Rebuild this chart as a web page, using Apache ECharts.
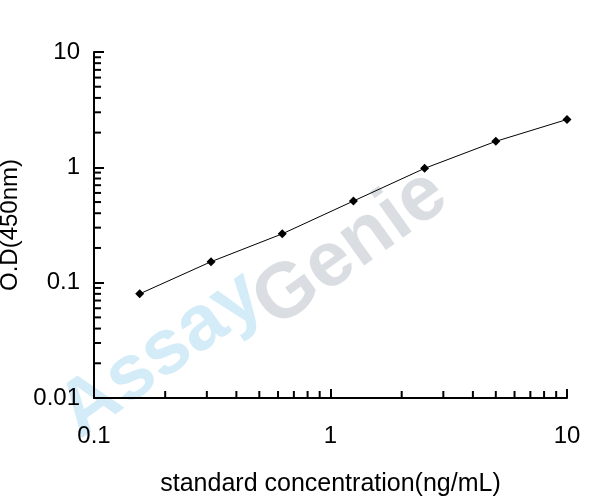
<!DOCTYPE html>
<html><head><meta charset="utf-8">
<script src="https://cdn.jsdelivr.net/npm/echarts@6/dist/echarts.min.js"></script>
<style>html,body{margin:0;padding:0;background:#fff}#c{width:608px;height:504px}</style>
</head><body><div id="c"></div>
<script>
const concentrations = [0.156, 0.3125, 0.625, 1.25, 2.5, 5, 10];
const odValues = [0.080, 0.152, 0.265, 0.51, 0.98, 1.68, 2.6];
const xTicks = [0.1, 1, 10];
const yTicks = [0.01, 0.1, 1, 10];
const chart = echarts.init(document.getElementById('c'));
const font = 'Liberation Sans, Arial, sans-serif';
chart.setOption({
  animation: false,
  grid: {left: 94, right: 41, top: 52, bottom: 106, containLabel:false, outerBoundsMode:'none'},
  xAxis: {type:'log', min:0.1, max:10, logBase:10,
    name:'standard concentration(ng/mL)', nameLocation:'middle', nameGap:74,
    nameTextStyle:{fontFamily:font, fontSize:25, color:'#000'},
    axisLine:{lineStyle:{color:'#000', width:2}},
    axisTick:{inside:true, length:9, lineStyle:{color:'#000', width:2}},
    axisLabel:{fontFamily:font, fontSize:24, color:'#000', margin:26},
    splitLine:{show:false}},
  yAxis: {type:'log', min:0.01, max:10, logBase:10,
    name:'O.D(450nm)', nameLocation:'middle', nameGap:66,
    nameTextStyle:{fontFamily:font, fontSize:24, color:'#000'},
    axisLine:{lineStyle:{color:'#000', width:2}},
    axisTick:{inside:true, length:10, lineStyle:{color:'#000', width:2}},
    axisLabel:{fontFamily:font, fontSize:24, color:'#000', margin:14},
    splitLine:{show:false}},
  series: [{type:'line', data: concentrations.map((c,i)=>[c, odValues[i]]),
    symbol:'diamond', symbolSize:9, itemStyle:{color:'#000'},
    lineStyle:{color:'#000', width:1}, z:5}]
});
const g = [
  {type:'text', x:45, y:390, rotation:0.62, style:{text:'Assay', fill:'rgba(130,200,235,0.35)', font:'bold 78px '+font}, z:0},
  {type:'text', x:240, y:280, rotation:0.62, style:{text:'Genie', fill:'rgba(150,160,175,0.35)', font:'bold 78px '+font}, z:0}
];
const x0 = chart.convertToPixel({xAxisIndex:0}, 0.1);
const y0 = chart.convertToPixel({yAxisIndex:0}, 0.01);
[0.1, 1].forEach(d => { for (let k = 2; k <= 9; k++) {
  const px = chart.convertToPixel({xAxisIndex:0}, d*k);
  g.push({type:'line', z:10, shape:{x1:px, y1:y0, x2:px, y2:y0-7}, style:{stroke:'#000', lineWidth:2}});
}});
[0.01, 0.1, 1].forEach(d => { for (let k = 2; k <= 9; k++) {
  const py = chart.convertToPixel({yAxisIndex:0}, d*k);
  g.push({type:'line', z:10, shape:{x1:x0, y1:py, x2:x0+7, y2:py}, style:{stroke:'#000', lineWidth:2}});
}});
chart.setOption({graphic: {elements: g}});
</script></body></html>
